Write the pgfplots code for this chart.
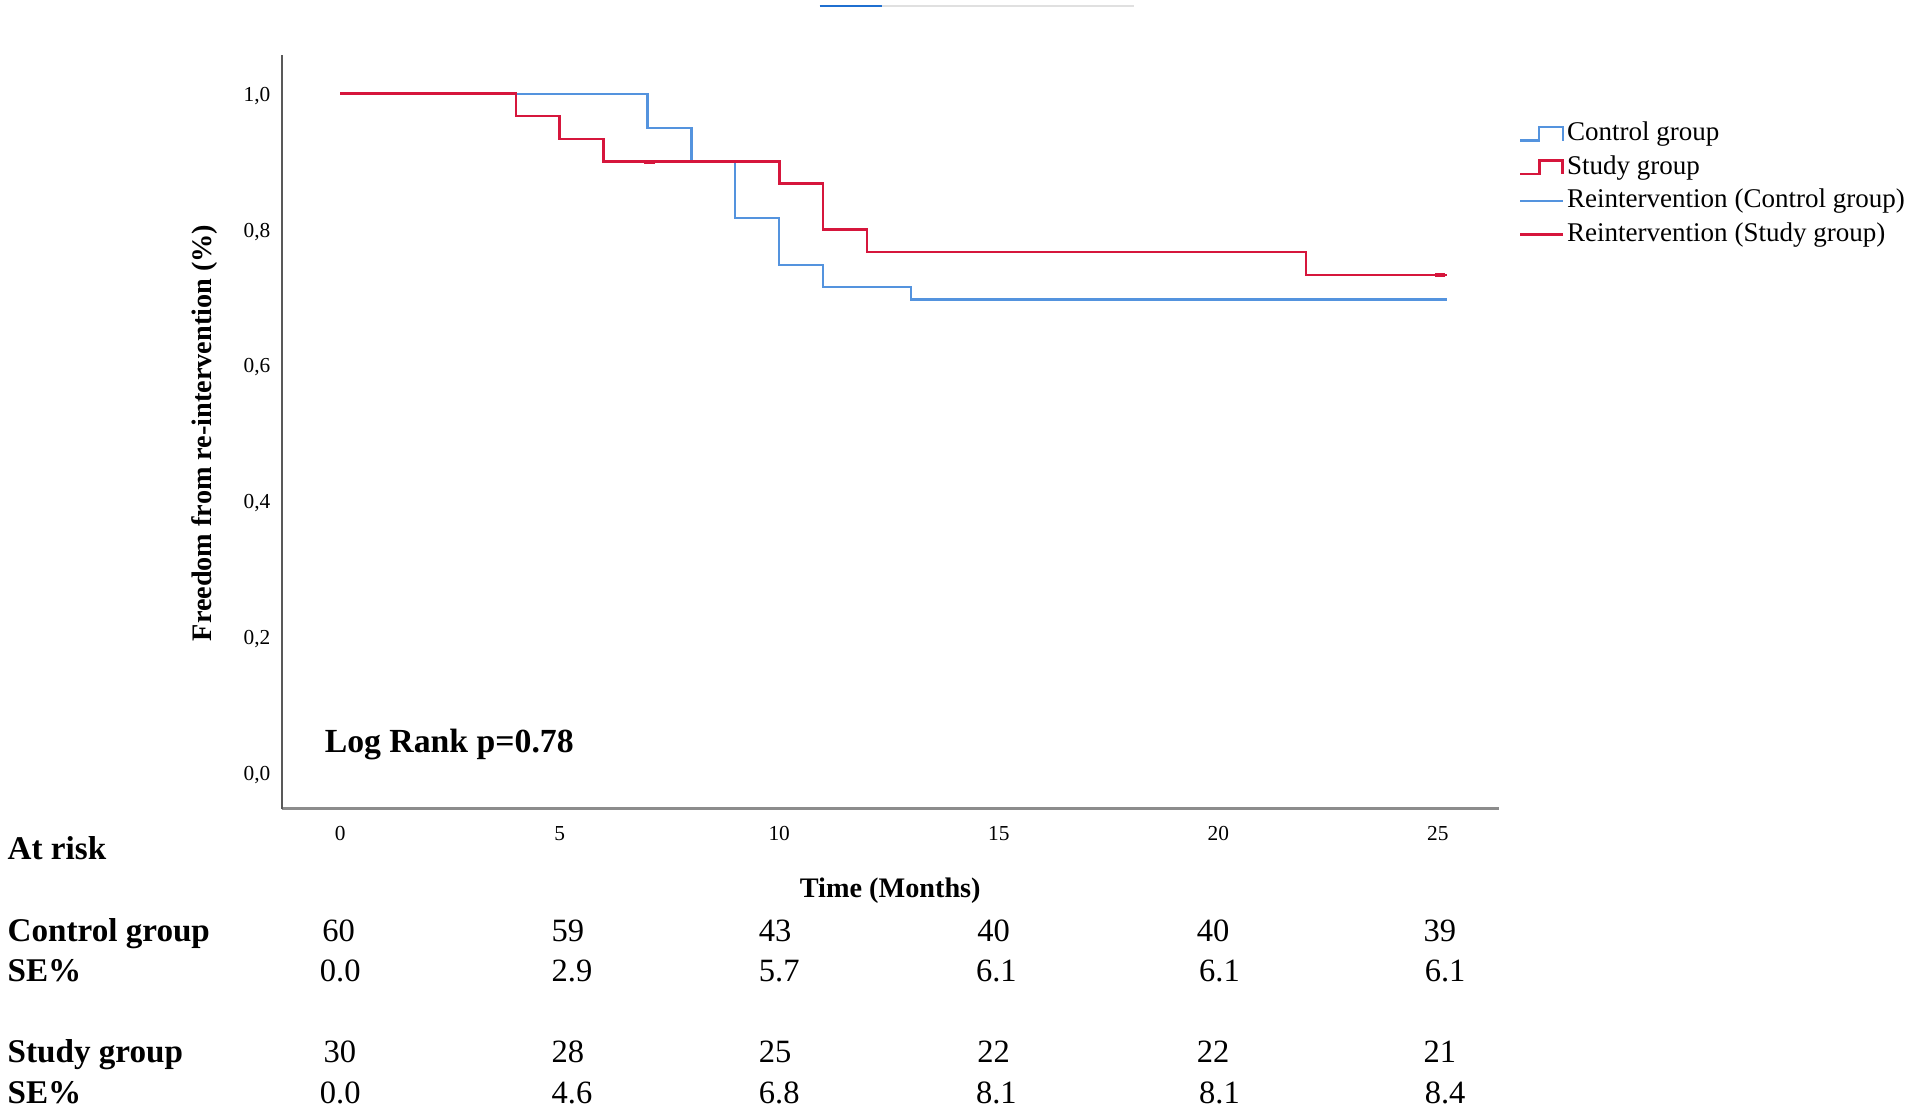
\documentclass[border=0pt]{standalone}
\usepackage{fontspec}
\setmainfont{Liberation Serif}
\usepackage{pgfplots}
\pgfplotsset{compat=1.18}
\definecolor{cblue}{RGB}{84,147,222}
\definecolor{cred}{RGB}{214,22,60}
\definecolor{topblue}{RGB}{31,111,208}
\pgfplotstableread{
t s
0 1
7 0.95
8 0.90
9 0.817
10 0.748
11 0.715
13 0.697
25.2 0.697
}\control
\pgfplotstableread{
t s
0 1
4 0.967
5 0.933
6 0.90
10 0.868
11 0.80
12 0.767
22 0.733
25.2 0.733
}\study
\begin{document}
\begin{tikzpicture}
\begin{scope}[x=0.6pt,y=-0.6pt]
\path[use as bounding box] (0,0) rectangle (1567,909);
\draw[topblue, line width=1.2pt] (672,5) -- (723,5);
\draw[black!12, line width=0.9pt] (723,5) -- (930,5);
\end{scope}
\begin{axis}[
  at={(138.6pt,-397.8pt)}, anchor=south west,
  scale only axis, width=598.8pt, height=370.8pt,
  xmin=-1.333, xmax=26.39, ymin=-0.052, ymax=1.057,
  axis x line=bottom, axis y line=left,
  x axis line style={-, draw=black!45, line width=1.8pt},
  y axis line style={-, draw=black!65, line width=0.8pt},
  major tick length=0pt,
  xtick={0,5,10,15,20,25},
  ytick={0,0.2,0.4,0.6,0.8,1},
  ticklabel style={font=\fontsize{10.5}{12}\selectfont},
  /pgf/number format/.cd, use comma, fixed, fixed zerofill, precision=1, assume math mode=true,
  /pgfplots/.cd,
  xticklabel style={anchor=north, inner sep=0pt, yshift=-8.7pt, /pgf/number format/precision=0, /pgf/number format/fixed zerofill=false},
  yticklabel style={anchor=east, inner sep=0pt, xshift=-5.4pt, yshift=-1pt},
  clip=false,
  legend style={at={(1.016,0.918)}, anchor=north west, draw=none, fill=none, inner sep=0pt,
    font=\fontsize{13.3}{16}\selectfont, row sep=0pt,
    nodes={inner sep=1.5pt, text height=10pt, text depth=3.5pt}},
  legend cell align=left,
]
\addplot[const plot, cblue, line width=1.05pt,
  legend image code/.code={\draw[cblue, line width=1.1pt] (0pt,-3.3pt) -- (9.5pt,-3.3pt) -- (9.5pt,3.3pt) -- (21pt,3.3pt) -- (21pt,-3.3pt);}]
  table[x=t,y=s] {\control};
\addlegendentry{Control group}
\addplot[const plot, cred, line width=1.25pt,
  legend image code/.code={\draw[cred, line width=1.3pt] (0pt,-3.3pt) -- (9.5pt,-3.3pt) -- (9.5pt,3.3pt) -- (21pt,3.3pt) -- (21pt,-3.3pt);}]
  table[x=t,y=s] {\study};
\addlegendentry{Study group}
\addplot[only marks, mark=-, mark size=2.6pt, cblue, mark options={line width=1.8pt},
  legend image code/.code={\draw[cblue, line width=1.1pt] (0pt,0pt) -- (21pt,0pt);}]
  coordinates {(21,0.697) (25.05,0.697)};
\addlegendentry{Reintervention (Control group)}
\addplot[only marks, mark=-, mark size=2.6pt, cred, mark options={line width=2pt},
  legend image code/.code={\draw[cred, line width=1.1pt] (0pt,0pt) -- (21pt,0pt);}]
  coordinates {(7.05,0.90) (25.05,0.733)};
\addlegendentry{Reintervention (Study group)}
\end{axis}
\begin{scope}[x=0.6pt,y=-0.6pt]
\node[rotate=90, inner sep=0pt, font=\bfseries\fontsize{13.9}{16}\selectfont] at (168,355) {Freedom from re-intervention (\%)};
\node[anchor=base west, inner sep=0pt, font=\bfseries\fontsize{16.6}{19}\selectfont] at (266,617) {Log Rank p=0.78};
\node[anchor=base, inner sep=0pt, font=\bfseries\fontsize{13.9}{16}\selectfont] at (730,736) {Time (Months)};
\begin{scope}[every node/.style={anchor=base west, inner sep=0pt, font=\bfseries\fontsize{16.3}{19}\selectfont}]
\node at (6,705) {At risk};
\node at (6,772) {Control group};
\node at (6,805) {SE\%};
\node at (6,871) {Study group};
\node at (6,905) {SE\%};
\end{scope}
\begin{scope}[every node/.style={anchor=base west, inner sep=0pt, font=\fontsize{16}{19}\selectfont}]
\node at (264,772) {60};  \node at (452,772) {59};  \node at (622,772) {43};
\node at (801,772) {40};  \node at (981,772) {40};  \node at (1167,772) {39};
\node at (262,805) {0.0}; \node at (452,805) {2.9}; \node at (622,805) {5.7};
\node at (800,805) {6.1}; \node at (983,805) {6.1}; \node at (1168,805) {6.1};
\node at (265,871) {30};  \node at (452,871) {28};  \node at (622,871) {25};
\node at (801,871) {22};  \node at (981,871) {22};  \node at (1167,871) {21};
\node at (262,905) {0.0}; \node at (452,905) {4.6}; \node at (622,905) {6.8};
\node at (800,905) {8.1}; \node at (983,905) {8.1}; \node at (1168,905) {8.4};
\end{scope}
\end{scope}
\end{tikzpicture}
\end{document}
